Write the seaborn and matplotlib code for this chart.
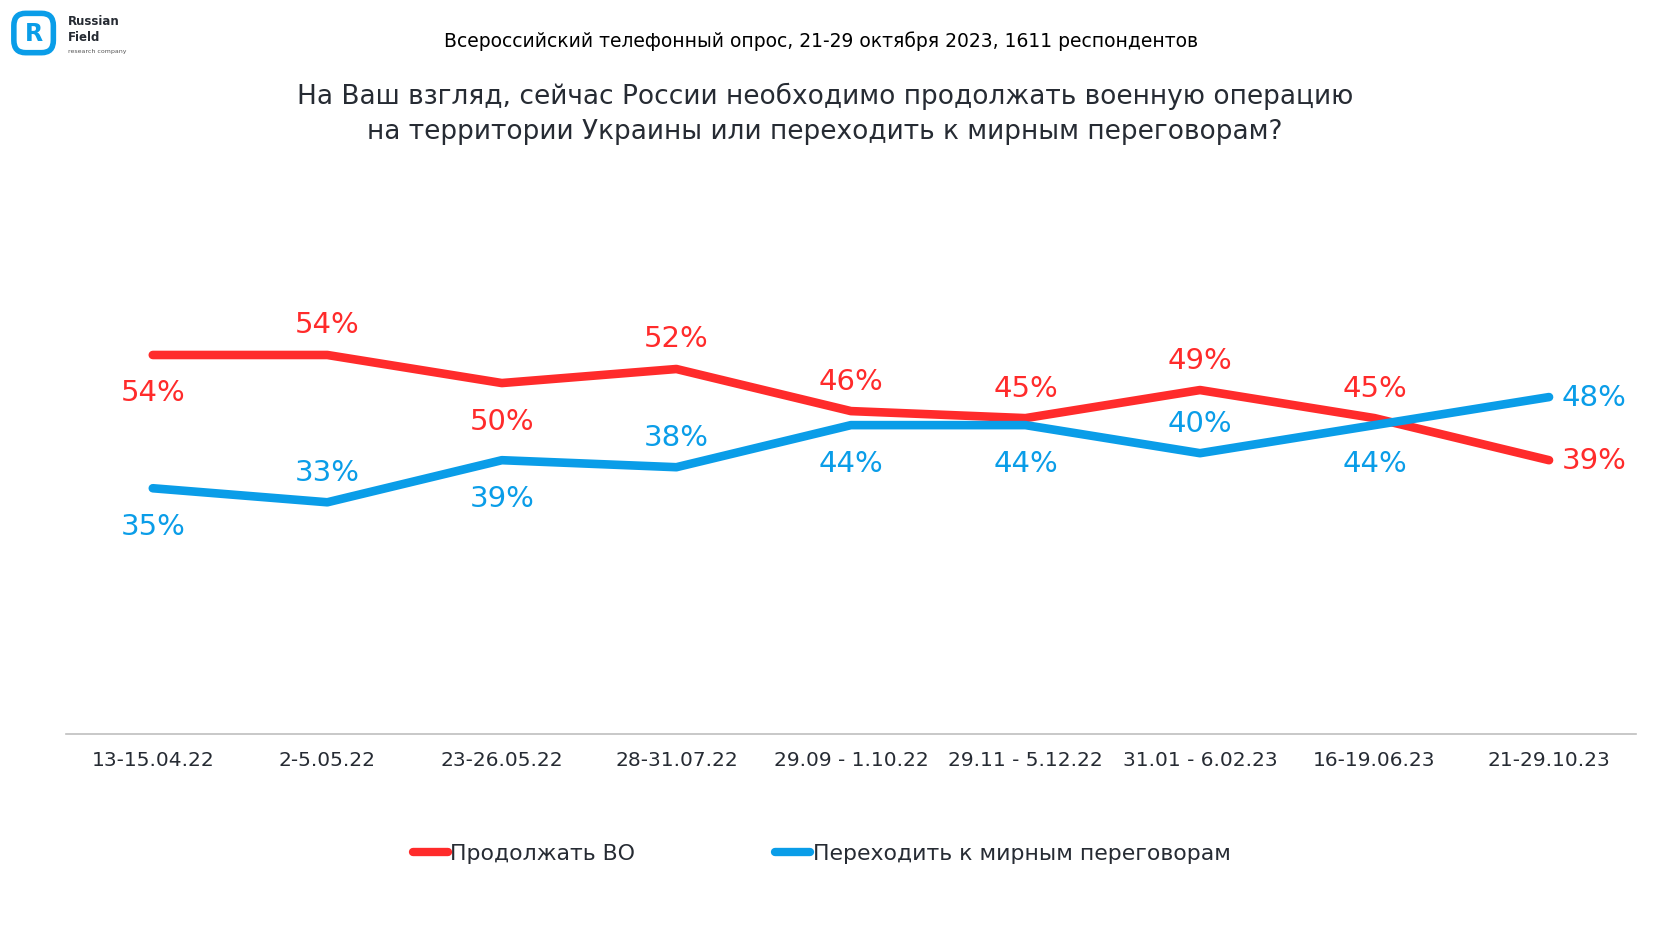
import numpy as np
import pandas as pd
import matplotlib.pyplot as plt
from matplotlib.patches import FancyBboxPatch
import seaborn as sns

periods = ['13-15.04.22', '2-5.05.22', '23-26.05.22', '28-31.07.22', '29.09 - 1.10.22',
           '29.11 - 5.12.22', '31.01 - 6.02.23', '16-19.06.23', '21-29.10.23']
continue_vo = [54, 54, 50, 52, 46, 45, 49, 45, 39]
peace_talks = [35, 33, 39, 38, 44, 44, 40, 44, 48]
series_names = ['Продолжать ВО', 'Переходить к мирным переговорам']

RED = '#FF2B2B'
BLUE = '#0A9DE8'
DARK = '#262B33'

df = pd.DataFrame({
    'x': list(range(len(periods))) * 2,
    'value': continue_vo + peace_talks,
    'series': [series_names[0]] * len(periods) + [series_names[1]] * len(periods),
})

sns.set_style('white')
plt.rcParams['font.family'] = ['DejaVu Sans']

fig = plt.figure(figsize=(16.8, 9.45), dpi=100)
ax = fig.add_axes([0.039, 0.2225, 0.935, 0.524])

sns.lineplot(data=df, x='x', y='value', hue='series', palette=[RED, BLUE],
             linewidth=6.2, solid_capstyle='round', sort=False, legend=False, ax=ax)

ax.set_xlim(-0.5, len(periods) - 0.5)
ax.set_ylim(0, 70.6)
ax.set_yticks([])
ax.set_xlabel('')
ax.set_ylabel('')
for s in ['top', 'left', 'right']:
    ax.spines[s].set_visible(False)
ax.spines['bottom'].set_color('#BFBFBF')
ax.spines['bottom'].set_linewidth(1.2)
ax.set_xticks(range(len(periods)))
ax.set_xticklabels(periods, fontsize=14.5, color=DARK)
ax.set_xticks(np.arange(-0.5, len(periods), 1), minor=True)
ax.tick_params(axis='x', which='major', length=0, pad=12)
ax.tick_params(axis='x', which='minor', length=7, color='#BFBFBF', width=1.2, direction='out')

# data label placement (Excel style)
red_place = ['b', 'a', 'b', 'a', 'a', 'a', 'a', 'a', 'r']
blue_place = ['b', 'a', 'b', 'a', 'b', 'b', 'a', 'b', 'r']
for vals, places, col in [(continue_vo, red_place, RED), (peace_talks, blue_place, BLUE)]:
    for i, (v, p) in enumerate(zip(vals, places)):
        if p == 'a':
            off, ha = (0, 22), 'center'
        elif p == 'b':
            off, ha = (0, -27), 'center'
        else:
            off, ha = (9, 0), 'left'
        ax.annotate(f'{v}%', (i, v), xytext=off, textcoords='offset points',
                    ha=ha, va='center', fontsize=21, color=col)

# titles
fig.text(0.489, 0.956, 'Всероссийский телефонный опрос, 21-29 октября 2023, 1611 респондентов',
         ha='center', va='center', fontsize=13.5, color='black')
fig.text(0.491, 0.898, 'На Ваш взгляд, сейчас России необходимо продолжать военную операцию',
         ha='center', va='center', fontsize=19, color=DARK)
fig.text(0.491, 0.860, 'на территории Украины или переходить к мирным переговорам?',
         ha='center', va='center', fontsize=19, color=DARK)

# legend
handles = [plt.Line2D([], [], color=RED, lw=6, solid_capstyle='round'),
           plt.Line2D([], [], color=BLUE, lw=6, solid_capstyle='round')]
fig.legend(handles, series_names, loc='center', bbox_to_anchor=(0.489, 0.096), ncol=2,
           frameon=False, fontsize=15.8, handlelength=1.6, handletextpad=0.1,
           columnspacing=6.4, labelcolor=DARK)

# logo
lax = fig.add_axes([0.006, 0.938, 0.028, 0.052])
lax.set_xlim(0, 1)
lax.set_ylim(0, 1)
lax.axis('off')
lax.add_patch(FancyBboxPatch((0.08, 0.1), 0.84, 0.8, boxstyle='round,pad=0,rounding_size=0.25',
                             fc='none', ec='#0A9DE8', lw=4))
lax.text(0.5, 0.5, 'R', ha='center', va='center', fontsize=17, fontweight='bold', color='#0A9DE8')
fig.text(0.0405, 0.977, 'Russian', fontsize=8.5, fontweight='bold', color=DARK, va='center')
fig.text(0.0405, 0.960, 'Field', fontsize=8.5, fontweight='bold', color=DARK, va='center')
fig.text(0.0405, 0.946, 'research company', fontsize=4.5, color='#555555', va='center')

fig.savefig('out.png', dpi=100)
